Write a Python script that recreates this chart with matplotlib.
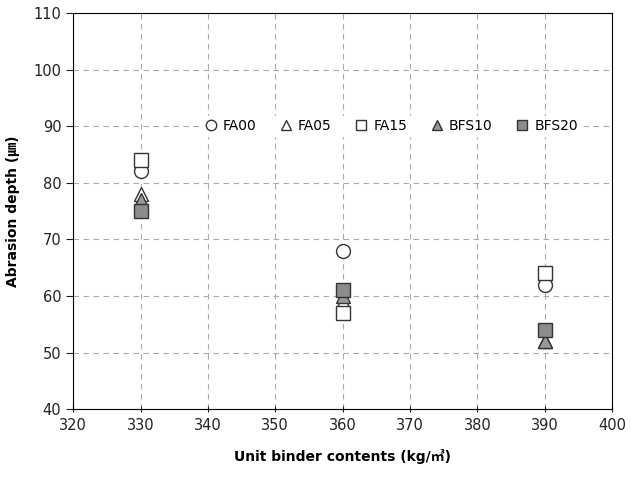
import matplotlib.pyplot as plt

plt.rcParams['font.family'] = ['DejaVu Sans', 'Noto Sans CJK KR']

binder = [330, 360, 390]
fa00 = [82, 68, 62]
fa05 = [78, 59, 52]
fa15 = [84, 57, 64]
bfs10 = [77, 60, 52]
bfs20 = [75, 61, 54]

fig = plt.figure(figsize=(6.31, 4.78), dpi=100)
ax = fig.add_axes([0.116, 0.144, 0.854, 0.829])

ms = 10
ax.plot(binder, fa00, 'o', ls='none', ms=ms, mfc='white', mec='#333333', mew=1, label='FA00', zorder=3)
ax.plot(binder, fa05, '^', ls='none', ms=ms, mfc='white', mec='#333333', mew=1, label='FA05', zorder=3)
ax.plot(binder, fa15, 's', ls='none', ms=ms, mfc='white', mec='#333333', mew=1, label='FA15', zorder=3)
ax.plot(binder, bfs10, '^', ls='none', ms=ms, mfc='#999999', mec='#333333', mew=1, label='BFS10', zorder=4)
ax.plot(binder, bfs20, 's', ls='none', ms=ms, mfc='#8c8c8c', mec='#333333', mew=1, label='BFS20', zorder=4)

ax.set_xlim(320, 400)
ax.set_ylim(40, 110)
ax.set_xticks(range(320, 401, 10))
ax.set_yticks(range(40, 111, 10))
ax.grid(True, ls=(0, (5, 4)), color='#aaaaaa', lw=0.8)
ax.set_axisbelow(True)
ax.tick_params(labelsize=10.5, colors='#222222', length=5)
ax.tick_params(axis='x', direction='inout')

ax.set_xlabel('Unit binder contents (kg/㎥)', fontsize=10, fontweight='bold', labelpad=12)
ax.set_ylabel('Abrasion depth (㎛)', fontsize=10, fontweight='bold', labelpad=10)

leg = ax.legend(loc='center', bbox_to_anchor=(0.59, 0.714), ncol=5, frameon=True,
                fancybox=False, edgecolor='white', facecolor='white', framealpha=1,
                fontsize=10, handletextpad=0.4, columnspacing=1.7, markerscale=0.75,
                handlelength=0.9, borderpad=0.2)

fig.savefig('out.png', dpi=100)
